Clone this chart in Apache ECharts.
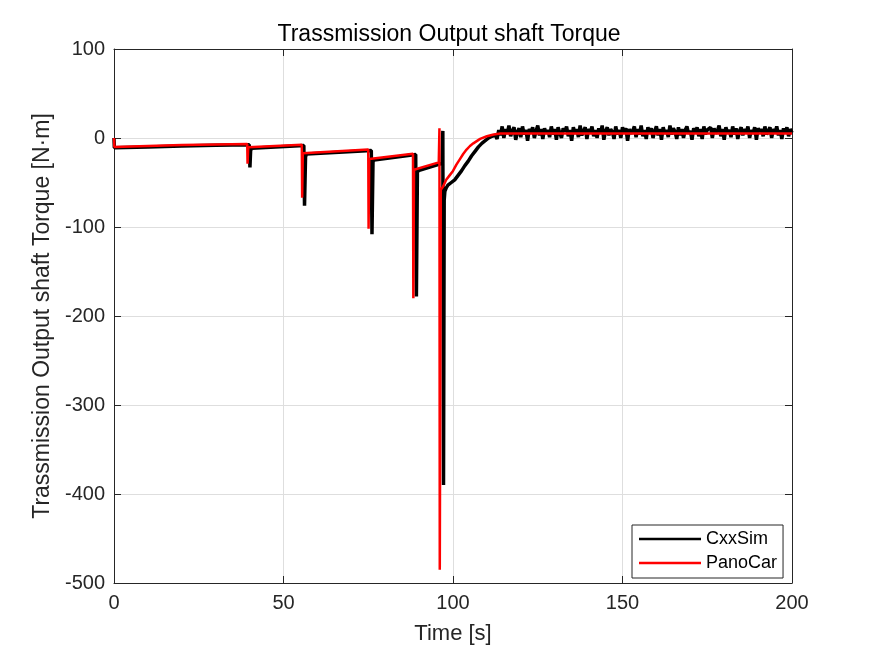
<!DOCTYPE html>
<html>
<head>
<meta charset="utf-8">
<script src="https://cdn.jsdelivr.net/npm/echarts@6/dist/echarts.min.js"></script>
<style>html,body{margin:0;padding:0;background:#fff;}#c{width:875px;height:656px;}</style>
</head>
<body>
<div id="c"></div>
<script>
const xTicks = [0, 50, 100, 150, 200];
const yTicks = [-500, -400, -300, -200, -100, 0, 100];

// PanoCar (red)
const panoTime = [0, 0.1, 10, 20, 30, 39.3, 39.4, 39.6, 55.4, 55.5, 55.7, 75.0, 75.1, 75.3, 88.2, 88.3, 88.5, 95.8, 96.0, 96.1, 96.4, 97, 98, 99, 100, 101, 102, 103, 104, 105, 106, 108, 110, 112, 114, 130, 150, 170, 200];
const panoTorque = [0, -10, -9, -8, -7.2, -6.8, -29, -10.5, -7.5, -67, -17, -13, -102, -23.6, -17.6, -180, -35.6, -27.4, 11, -485, -58, -55, -47, -42, -37, -30, -24, -18, -13, -9, -6, -1, 2, 4, 5, 5, 5, 5, 5];

// CxxSim (black) - part up to the end of the transient
const cxxTime = [0, 0.1, 10, 20, 30, 39.9, 40.1, 40.3, 40.6, 56.0, 56.2, 56.5, 56.8, 75.9, 76.1, 76.4, 76.7, 89.0, 89.2, 89.5, 89.8, 96.8, 97.0, 97.2, 97.4,
  97.6, 98, 98.5, 99, 99.5, 100, 100.5, 101, 101.5, 102, 102.5, 103, 103.5, 104, 104.5, 105, 105.5, 106, 106.5, 107, 107.5, 108, 108.5, 109, 109.5, 110, 110.5, 111, 111.5, 112, 112.5];
const cxxTorque = [0, -11, -10, -9, -8.2, -7.6, -33, -14, -11.5, -8.5, -76, -21, -18, -14, -108, -27, -24.6, -18.6, -178, -39, -36.6, -28.4, 8, -390, -70,
  -60, -56, -53, -54, -50, -51, -47, -46, -42, -40, -37, -35, -31, -29, -26, -24, -20, -19, -15, -14, -10, -10, -6, -6, -3, -3, 0, -1, 2, 1, 3];
// CxxSim noisy steady state, sampled every 0.5 s from 113 s
const cxxTailStart = 113, cxxTailStep = 0.5;
const cxxTailTorque = [
  -1, 9, 3, 13, 0, 10, 5, 14, 2, 8,
  12, -2, 7, 11, 1, 13, 4, 9, -3, 10,
  6, 12, 0, 8, 14, 3, 10, -1, 11, 5,
  9, 1, 13, 4, 10, -2, 12, 6, 0, 11,
  7, 13, 2, 9, -3, 12, 5, 10, 1, 14,
  3, 8, 12, -1, 10, 6, 13, 2, 9, 0,
  11, 5, 14, -2, 8, 12, 3, 10, 7, -1,
  13, 4, 9, 0, 12, 6, 11, -3, 10, 5,
  8, 13, 1, 10, 4, 14, 2, 9, -1, 12,
  6, 11, 0, 8, 13, 3, 10, -2, 12, 5,
  9, 1, 14, 4, 11, 7, -1, 12, 3, 10,
  0, 9, 13, 5, 8, -2, 11, 6, 12, 2,
  10, -1, 13, 4, 9, 7, 12, 0, 11, 5,
  8, 14, 2, 10, -2, 12, 6, 9, 1, 13,
  4, 11, -1, 8, 12, 3, 10, 6, 13, 0,
  9, 5, 12, -2, 11, 7, 10, 2, 13, 4,
  8, 12, 0, 10, 6, 13, 3, 9, -1, 11,
  5, 12, 2, 10, 6
];

const panoData = panoTime.map((t, i) => [t, panoTorque[i]]);
const cxxData = cxxTime.map((t, i) => [t, cxxTorque[i]]);
cxxTailTorque.forEach((v, i) => cxxData.push([cxxTailStart + i * cxxTailStep, v]));

const FONT = "'Liberation Sans', Arial, Helvetica, sans-serif";
const AX = '#262626';
const GRIDC = '#dedede';

const chart = echarts.init(document.getElementById('c'), null, {renderer: 'canvas'});
const baseX = {type: 'value', min: xTicks[0], max: xTicks[xTicks.length - 1], interval: 50};
const baseY = {type: 'value', min: yTicks[0], max: yTicks[yTicks.length - 1], interval: 100};
chart.setOption({
  animation: false,
  backgroundColor: '#fff',
  textStyle: {fontFamily: FONT},
  title: {
    text: 'Trassmission Output shaft Torque',
    left: 444, top: 18, textAlign: 'center',
    textStyle: {fontFamily: FONT, fontSize: 23, fontWeight: 'normal', color: '#000'}
  },
  grid: {left: 114, right: 83, top: 49, bottom: 73, containLabel: false, show: false},
  legend: {
    left: 632, top: 525,
    orient: 'vertical',
    itemWidth: 62, itemHeight: 18, itemGap: 6,
    padding: [5, 6, 6, 7],
    borderColor: AX, borderWidth: 1, backgroundColor: '#fff',
    textStyle: {fontFamily: FONT, fontSize: 18, color: '#000'},
    data: [
      {name: 'CxxSim', icon: 'path://M0,0L62,0L62,2.5L0,2.5Z', itemStyle: {color: '#000'}},
      {name: 'PanoCar', icon: 'path://M0,0L62,0L62,2.5L0,2.5Z', itemStyle: {color: '#ff0000'}}
    ]
  },
  xAxis: [
    Object.assign({}, baseX, {
      position: 'bottom',
      name: 'Time [s]', nameLocation: 'middle', nameGap: 40,
      nameTextStyle: {fontFamily: FONT, fontSize: 22, color: AX},
      axisLine: {show: true, onZero: false, lineStyle: {color: AX, width: 1}},
      axisTick: {show: true, inside: true, length: 7, lineStyle: {color: AX}},
      axisLabel: {fontFamily: FONT, fontSize: 20, color: AX, margin: 10},
      splitLine: {show: true, lineStyle: {color: GRIDC, width: 1}}
    }),
    Object.assign({}, baseX, {
      position: 'top',
      axisLine: {show: true, onZero: false, lineStyle: {color: AX, width: 1}},
      axisTick: {show: true, inside: true, length: 7, lineStyle: {color: AX}},
      axisLabel: {show: false},
      splitLine: {show: false}
    })
  ],
  yAxis: [
    Object.assign({}, baseY, {
      position: 'left',
      name: 'Trassmission Output shaft Torque [N·m]', nameLocation: 'middle', nameGap: 57,
      nameTextStyle: {fontFamily: FONT, fontSize: 23, color: AX},
      axisLine: {show: true, onZero: false, lineStyle: {color: AX, width: 1}},
      axisTick: {show: true, inside: true, length: 7, lineStyle: {color: AX}},
      axisLabel: {fontFamily: FONT, fontSize: 20, color: AX, margin: 9},
      splitLine: {show: true, lineStyle: {color: GRIDC, width: 1}}
    }),
    Object.assign({}, baseY, {
      position: 'right',
      axisLine: {show: true, onZero: false, lineStyle: {color: AX, width: 1}},
      axisTick: {show: true, inside: true, length: 7, lineStyle: {color: AX}},
      axisLabel: {show: false},
      splitLine: {show: false}
    })
  ],
  series: [
    {
      name: 'CxxSim', type: 'line', data: cxxData, xAxisIndex: 0, yAxisIndex: 0,
      showSymbol: false, symbol: 'none', color: '#000',
      lineStyle: {color: '#000', width: 3.5}, z: 2
    },
    {
      name: 'PanoCar', type: 'line', data: panoData, xAxisIndex: 0, yAxisIndex: 0,
      showSymbol: false, symbol: 'none', color: '#ff0000',
      lineStyle: {color: '#ff0000', width: 2.5}, z: 3
    }
  ]
});
</script>
</body>
</html>
